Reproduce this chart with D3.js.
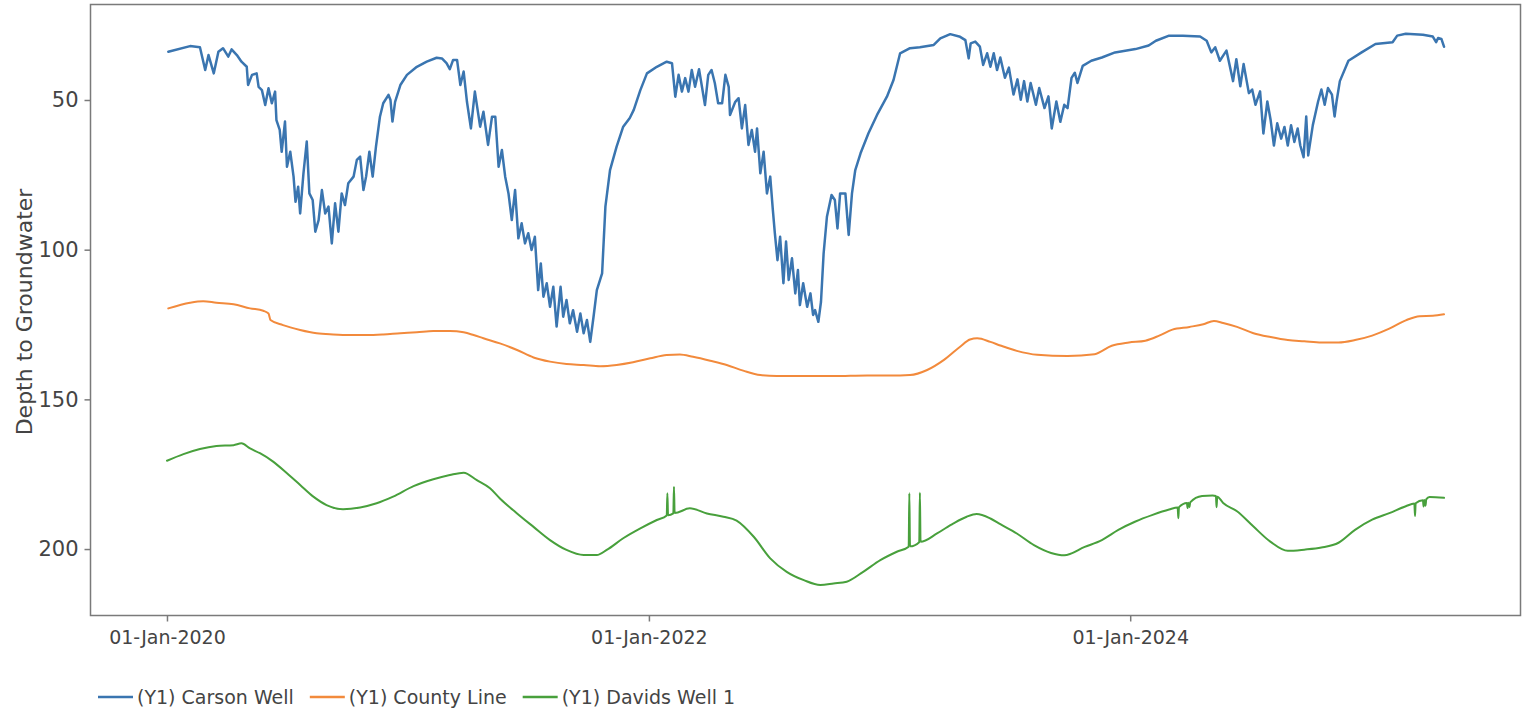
<!DOCTYPE html>
<html>
<head>
<meta charset="utf-8">
<script src="https://cdn.jsdelivr.net/npm/d3@7"></script>
<style>
html, body { margin: 0; padding: 0; background: #ffffff; }
svg { display: block; font-family: "DejaVu Sans", Verdana, sans-serif; }
</style>
</head>
<body>
<svg id="chart" width="1530" height="710"></svg>
<script>
// ---------------- DATA ----------------
const seriesNames = ["(Y1) Carson Well", "(Y1) County Line", "(Y1) Davids Well 1"];
const startDate = "2020-01-01";          // day 0 of the readings below
const xDomainDates = ["2019-09-07", "2025-08-15"];
const yDomainDepth = [18.1, 222.2];      // reversed axis: depth grows downward
const xTickDates = ["2020-01-01", "2022-01-01", "2024-01-01"];
const yTickValues = [50, 100, 150, 200];
const yAxisTitle = "Depth to Groundwater";

// [day since startDate, depth to groundwater]
const carsonReadings = [
[2,33.9],[35,32.0],[50,32.4],[58,40.0],[63,35.0],[71,41.1],[78,33.9],[85,32.7],[93,35.5],[98,33.1],
[106,35.0],[113,37.2],[121,38.9],[123,45.0],[129,41.6],[136,41.1],[139,45.6],[144,46.7],[149,51.7],[154,46.1],
[159,51.1],[164,47.2],[166,56.7],[171,60.0],[174,67.3],[179,57.2],[182,72.3],[187,67.3],[192,75.6],[195,84.0],
[199,79.0],[202,87.9],[207,74.5],[212,63.9],[216,81.2],[221,83.4],[225,94.0],[230,90.1],[235,80.1],[240,87.9],
[245,85.6],[250,97.9],[255,84.5],[260,94.0],[265,81.2],[270,85.1],[275,77.8],[283,75.6],[288,70.0],[293,68.9],
[298,80.1],[302,75.6],[307,67.3],[312,75.6],[317,65.6],[323,55.6],[328,51.1],[336,48.3],[339,50.0],[342,57.2],
[346,50.6],[354,45.0],[364,41.6],[379,38.9],[394,37.2],[409,35.9],[417,36.1],[424,37.7],[429,39.7],[434,36.6],
[440,36.6],[445,45.0],[450,40.5],[455,50.6],[461,59.5],[467,47.2],[475,58.9],[480,53.9],[487,65.0],[493,55.6],
[498,55.6],[503,72.3],[508,66.7],[513,75.6],[518,81.2],[523,90.1],[528,80.1],[533,96.2],[538,91.2],[543,97.9],
[548,94.5],[553,100.1],[558,95.7],[563,113.5],[567,104.6],[571,115.7],[576,111.2],[581,119.1],[586,112.4],[591,125.7],
[597,112.4],[601,122.4],[606,116.8],[611,124.6],[616,120.2],[622,127.4],[627,121.3],[632,127.9],[637,123.5],[642,130.8],
[647,122.4],[652,113.5],[660,107.9],[665,85.6],[672,73.4],[682,65.6],[692,58.9],[702,56.0],[708,53.3],[718,46.7],
[728,41.1],[743,38.9],[758,37.2],[766,37.7],[771,48.9],[776,41.6],[781,47.2],[786,42.7],[791,47.2],[796,40.0],
[801,45.6],[807,39.7],[811,45.0],[816,51.7],[821,41.6],[826,40.0],[831,44.4],[836,51.1],[842,51.1],[847,41.6],
[852,45.6],[854,55.0],[862,50.6],[867,49.4],[872,59.5],[877,51.7],[882,65.0],[887,60.0],[892,67.3],[895,59.5],
[900,74.5],[905,67.3],[910,81.2],[915,75.6],[919,86.8],[922,94.5],[926,103.5],[930,95.7],[935,111.2],[939,97.3],
[943,110.1],[948,102.9],[953,114.6],[957,106.8],[960,118.5],[965,111.2],[971,119.1],[976,114.6],[980,121.8],[983,120.2],
[988,124.1],[992,117.4],[996,101.2],[1001,89.0],[1008,81.7],[1013,83.4],[1017,92.9],[1021,81.2],[1029,81.2],[1034,95.1],
[1039,81.2],[1044,73.4],[1052,67.8],[1064,61.1],[1077,55.0],[1092,48.9],[1102,43.3],[1112,34.4],[1127,32.7],[1142,32.4],
[1163,31.6],[1173,29.4],[1188,28.0],[1203,28.9],[1211,30.0],[1216,36.1],[1219,31.1],[1226,30.5],[1233,32.2],[1238,38.3],
[1244,34.4],[1249,38.9],[1254,34.4],[1259,40.0],[1264,35.8],[1271,42.6],[1277,39.2],[1284,48.2],[1290,43.1],[1295,49.9],
[1300,43.7],[1305,50.5],[1310,44.3],[1318,51.6],[1323,46.0],[1331,52.7],[1337,48.8],[1342,59.5],[1349,50.5],[1355,57.3],
[1361,51.6],[1366,52.7],[1372,42.6],[1377,40.9],[1381,44.3],[1389,38.6],[1402,36.9],[1418,35.8],[1438,34.1],[1469,33.0],
[1489,31.8],[1500,30.2],[1520,28.5],[1541,28.5],[1567,28.8],[1577,30.2],[1584,34.1],[1590,32.4],[1597,36.9],[1602,35.2],
[1607,33.5],[1617,43.7],[1622,36.4],[1628,45.4],[1633,38.0],[1641,47.7],[1646,46.5],[1651,51.6],[1658,47.1],[1663,61.2],
[1669,50.5],[1674,56.7],[1679,65.2],[1684,57.8],[1690,62.9],[1695,59.0],[1700,65.2],[1705,58.4],[1710,64.0],[1715,59.5],
[1719,65.2],[1724,69.1],[1728,55.5],[1731,68.5],[1738,58.4],[1746,50.5],[1751,46.5],[1756,51.6],[1761,46.0],[1767,48.2],
[1771,55.5],[1774,50.5],[1779,43.7],[1792,36.9],[1812,34.1],[1833,31.3],[1859,30.7],[1866,28.5],[1879,27.9],[1905,28.2],
[1920,28.8],[1925,30.7],[1928,29.3],[1933,29.6],[1937,32.2]
];

const countyReadings = [
[2,119.6],[35,117.7],[55,117.2],[75,117.7],[101,118.2],[126,119.6],[146,120.4],[154,121.3],[157,123.5],[176,125.2],
[202,126.8],[227,127.9],[252,128.3],[278,128.5],[303,128.5],[328,128.3],[354,127.9],[379,127.6],[404,127.2],[429,127.2],
[450,127.6],[465,128.5],[480,129.6],[505,131.3],[531,133.5],[556,136.0],[581,137.4],[606,138.2],[632,138.5],[657,138.9],
[682,138.5],[707,137.6],[733,136.3],[758,135.2],[778,135.0],[798,135.8],[824,137.1],[849,138.5],[874,140.4],[900,141.9],
[925,142.2],[960,142.2],[1011,142.2],[1062,142.0],[1112,142.0],[1127,141.9],[1153,140.2],[1178,136.9],[1203,132.4],[1218,130.0],
[1229,129.6],[1249,130.8],[1264,132.0],[1289,133.8],[1320,135.1],[1366,135.5],[1407,134.9],[1433,132.1],[1459,131.0],[1484,130.4],
[1505,128.7],[1525,126.7],[1551,125.8],[1572,124.9],[1588,123.8],[1602,124.5],[1623,125.8],[1648,127.9],[1674,129.2],[1700,130.2],
[1725,130.6],[1751,131.0],[1777,131.0],[1802,130.2],[1828,128.7],[1854,126.4],[1879,123.6],[1900,122.2],[1920,122.1],[1937,121.6]
];

const davidsReadings = [
[0,170.5],[25,168.3],[50,166.6],[75,165.6],[101,165.3],[113,164.7],[126,166.4],[141,168.0],[161,170.8],[182,174.7],
[202,178.6],[222,182.5],[242,185.3],[267,186.7],[293,186.1],[318,184.7],[343,182.5],[374,179.0],[404,176.7],[429,175.3],
[450,174.5],[470,177.0],[490,179.7],[505,183.1],[531,188.1],[556,192.6],[581,197.0],[606,200.3],[632,202.0],[652,202.0],
[667,200.3],[692,196.4],[718,193.1],[743,190.3],[758,188.8],[759,181.4],[760,188.7],[768,188.1],[769,179.2],[770,188.0],
[793,186.4],[819,188.1],[844,189.2],[864,190.5],[890,195.9],[915,203.1],[940,207.6],[966,210.4],[991,212.0],[1011,211.5],
[1031,210.9],[1056,207.6],[1082,203.7],[1107,200.9],[1125,199.2],[1126,181.4],[1127,199.1],[1141,197.7],[1142,181.2],[1143,197.6],
[1168,194.8],[1193,191.4],[1213,189.2],[1228,188.3],[1249,189.8],[1264,191.7],[1289,194.8],[1315,198.7],[1341,201.3],[1361,202.1],
[1392,199.3],[1418,197.0],[1443,193.6],[1469,190.8],[1495,188.6],[1520,186.8],[1533,186.1],[1534,189.7],[1535,186.0],[1547,184.6],
[1548,186.3],[1549,184.5],[1551,186.0],[1552,184.4],[1570,182.3],[1586,182.1],[1591,182.3],[1592,186.0],[1593,182.5],[1602,184.6],
[1623,187.4],[1648,192.5],[1674,197.6],[1700,200.6],[1725,200.2],[1751,199.5],[1777,197.9],[1802,193.6],[1828,190.2],[1854,188.0],
[1879,185.7],[1892,184.8],[1893,189.0],[1894,184.7],[1905,183.7],[1906,185.8],[1907,183.6],[1909,185.5],[1910,183.4],[1915,182.6],
[1937,182.9]
];

// ---------------- STYLE / LAYOUT ----------------
const plot = { left: 90.5, top: 4.5, right: 1520.5, bottom: 615.5 };
const colors = ["#3a75b0", "#f28a3c", "#48a03c"];
const widths = [2.5, 2, 2];
const textColor = "#444444";
const frameColor = "#7a7a7a";
const fontFamily = '"DejaVu Sans", Verdana, sans-serif';

const parseDay = d3.utcParse("%Y-%m-%d");
const day0 = parseDay(startDate);
const toDate = d => d3.utcDay.offset(day0, d);

const x = d3.scaleUtc()
  .domain(xDomainDates.map(parseDay))
  .range([plot.left, plot.right]);
const y = d3.scaleLinear()
  .domain(yDomainDepth)
  .range([plot.top, plot.bottom]);

const svg = d3.select("#chart");

svg.append("defs").append("clipPath").attr("id", "clip")
  .append("rect")
  .attr("x", plot.left).attr("y", plot.top)
  .attr("width", plot.right - plot.left).attr("height", plot.bottom - plot.top);

const allSeries = [carsonReadings, countyReadings, davidsReadings];
const curves = [d3.curveLinear, d3.curveMonotoneX, d3.curveMonotoneX];
const gLines = svg.append("g").attr("clip-path", "url(#clip)");
allSeries.forEach((data, i) => {
  const line = d3.line()
    .x(d => x(toDate(d[0])))
    .y(d => y(d[1]))
    .curve(curves[i]);
  gLines.append("path")
    .datum(data)
    .attr("fill", "none")
    .attr("stroke", colors[i])
    .attr("stroke-width", widths[i])
    .attr("stroke-linejoin", "round")
    .attr("stroke-linecap", "round")
    .attr("d", line);
});

svg.append("rect")
  .attr("x", plot.left).attr("y", plot.top)
  .attr("width", plot.right - plot.left).attr("height", plot.bottom - plot.top)
  .attr("fill", "none").attr("stroke", frameColor).attr("stroke-width", 1.5);

const fmt = d3.utcFormat("%d-%b-%Y");
const xAxis = svg.append("g")
  .attr("transform", `translate(0,${plot.bottom})`)
  .call(d3.axisBottom(x).tickValues(xTickDates.map(parseDay)).tickFormat(fmt).tickSize(6).tickPadding(9));
xAxis.select(".domain").remove();
xAxis.selectAll(".tick line").attr("stroke", frameColor).attr("stroke-width", 1.5);
xAxis.selectAll(".tick text").attr("fill", textColor).style("font-size", "19px")
  .style("font-family", fontFamily);

const yAxis = svg.append("g")
  .attr("transform", `translate(${plot.left},0)`)
  .call(d3.axisLeft(y).tickValues(yTickValues).tickSize(6).tickPadding(6));
yAxis.select(".domain").remove();
yAxis.selectAll(".tick line").attr("stroke", frameColor).attr("stroke-width", 1.5);
yAxis.selectAll(".tick text").attr("fill", textColor).style("font-size", "21px")
  .style("font-family", fontFamily);

svg.append("text")
  .attr("transform", `translate(32,${(plot.top + plot.bottom) / 2 + 2}) rotate(-90)`)
  .attr("text-anchor", "middle")
  .attr("fill", textColor)
  .style("font-size", "22px")
  .text(yAxisTitle);

const legend = svg.append("g");
let lx = 98;
const ly = 697;
seriesNames.forEach((name, i) => {
  legend.append("line")
    .attr("x1", lx).attr("x2", lx + 35)
    .attr("y1", ly).attr("y2", ly)
    .attr("stroke", colors[i]).attr("stroke-width", 2.5);
  const t = legend.append("text")
    .attr("x", lx + 39).attr("y", ly + 7)
    .attr("fill", textColor)
    .style("font-size", "19px")
    .text(name);
  lx = lx + 39 + t.node().getComputedTextLength() + 16;
});
</script>
</body>
</html>
